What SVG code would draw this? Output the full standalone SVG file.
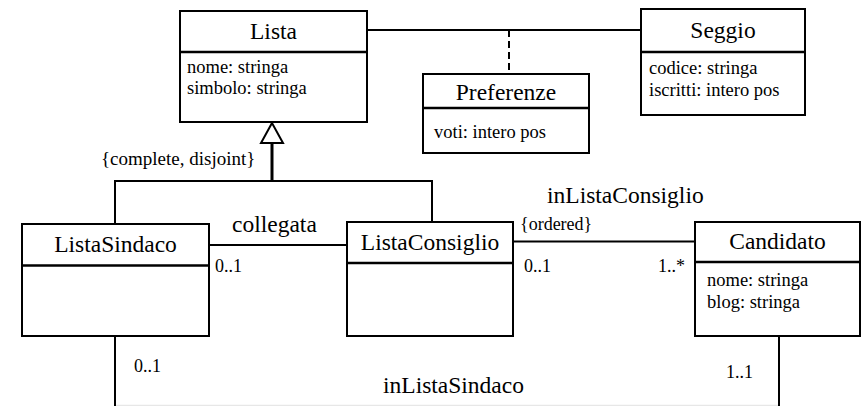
<svg xmlns="http://www.w3.org/2000/svg" width="861" height="406" viewBox="0 0 861 406" font-family="Liberation Serif" fill="#000">
<style>
.box{fill:#fff;stroke:#000;stroke-width:2}
.div{stroke:#000;stroke-width:2.5}
.ln{fill:none;stroke:#000;stroke-width:2}
.h{font-size:23.5px;text-anchor:middle}
.a{font-size:18.5px}
.s{font-size:18px}
.n{font-size:23.5px}
</style>
<rect width="861" height="406" fill="#fff"/>
<g id="connectors">
<line class="ln" x1="367" y1="30" x2="641" y2="30"/>
<line class="ln" x1="509" y1="30" x2="509" y2="74" stroke-dasharray="7,4"/>
<polyline class="ln" points="115,224 115,181 432,181 432,222"/>
<line x1="272" y1="143" x2="272" y2="181" stroke="#000" stroke-width="3"/>
<polygon points="272,123 261,143 283,143" fill="#fff" stroke="#000" stroke-width="2"/>
<line class="ln" x1="209" y1="245" x2="347" y2="245"/>
<line class="ln" x1="513" y1="241.5" x2="695" y2="241.5"/>
<line class="ln" x1="115" y1="336" x2="115" y2="406"/>
<line class="ln" x1="779" y1="336" x2="779" y2="406"/>
<line x1="116" y1="405.3" x2="778" y2="405.3" stroke="#e2e2e2" stroke-width="1"/>
<text font-family="Liberation Serif" x="101" y="165" font-size="19">{complete, disjoint}</text>
<text class="n" font-family="Liberation Serif" x="232" y="232">collegata</text>
<text class="s" font-family="Liberation Serif" x="215" y="272">0..1</text>
<text class="n" font-family="Liberation Serif" x="547" y="203">inListaConsiglio</text>
<text class="s" font-family="Liberation Serif" x="520" y="230">{ordered}</text>
<text class="s" font-family="Liberation Serif" x="524" y="272">0..1</text>
<text class="s" font-family="Liberation Serif" x="685" y="272" text-anchor="end">1..*</text>
<text class="s" font-family="Liberation Serif" x="134" y="372">0..1</text>
<text class="s" font-family="Liberation Serif" x="753" y="378" text-anchor="end">1..1</text>
<text class="n" font-family="Liberation Serif" x="383" y="393">inListaSindaco</text>
</g>
<g id="Lista" font-family="Liberation Serif">
<rect class="box" x="180" y="11" width="187" height="111"/>
<line class="div" x1="180" y1="52" x2="367" y2="52"/>
<text class="h" x="273.5" y="39">Lista</text>
<text class="a" x="187" y="73">nome: stringa</text>
<text class="a" x="187" y="94">simbolo: stringa</text>
</g>
<g id="Seggio" font-family="Liberation Serif">
<rect class="box" x="641" y="9" width="164" height="106"/>
<line class="div" x1="641" y1="52" x2="805" y2="52"/>
<text class="h" x="723" y="38">Seggio</text>
<text class="a" x="649" y="74">codice: stringa</text>
<text class="a" x="649" y="96">iscritti: intero pos</text>
</g>
<g id="Preferenze" font-family="Liberation Serif">
<rect class="box" x="423" y="74" width="166" height="79"/>
<line class="div" x1="423" y1="108" x2="589" y2="108"/>
<text class="h" x="506" y="100">Preferenze</text>
<text class="a" x="434" y="138">voti: intero pos</text>
</g>
<g id="ListaSindaco" font-family="Liberation Serif">
<rect class="box" x="22" y="224" width="187" height="112"/>
<line class="div" x1="22" y1="265.5" x2="209" y2="265.5"/>
<text class="h" x="115.5" y="252">ListaSindaco</text>
</g>
<g id="ListaConsiglio" font-family="Liberation Serif">
<rect class="box" x="347" y="222" width="166" height="114"/>
<line class="div" x1="347" y1="263" x2="513" y2="263"/>
<text class="h" x="430" y="250">ListaConsiglio</text>
</g>
<g id="Candidato" font-family="Liberation Serif">
<rect class="box" x="695" y="222" width="165" height="114"/>
<line class="div" x1="695" y1="262" x2="860" y2="262"/>
<text class="h" x="777.5" y="249">Candidato</text>
<text class="a" x="707" y="286">nome: stringa</text>
<text class="a" x="707" y="308">blog: stringa</text>
</g>
</svg>
